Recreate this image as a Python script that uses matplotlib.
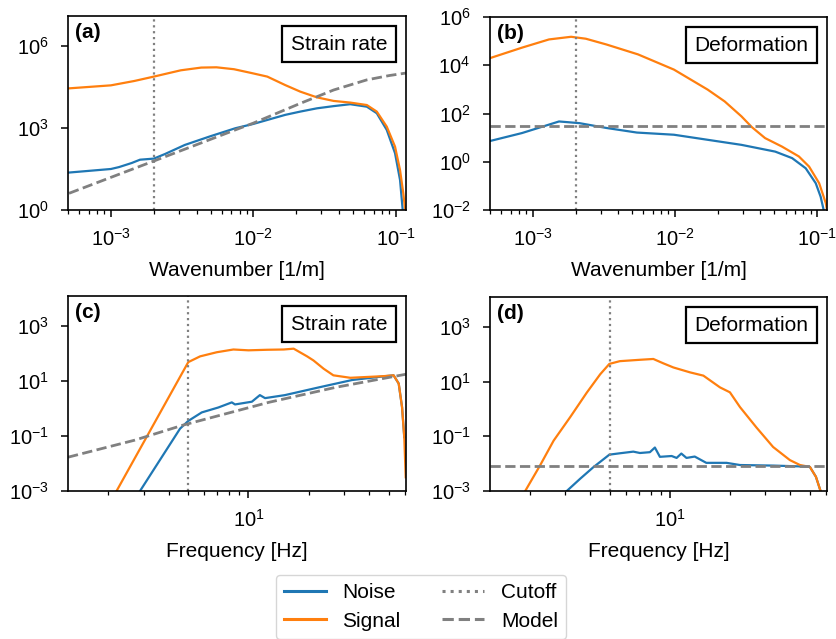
import numpy as np
import matplotlib
matplotlib.use("Agg")
import matplotlib.pyplot as plt
from matplotlib.offsetbox import AnchoredText
from matplotlib.lines import Line2D
from matplotlib.ticker import FixedLocator, NullLocator, NullFormatter, LogLocator

plt.rcParams['font.family'] = ['Liberation Sans', 'DejaVu Sans']
plt.rcParams['mathtext.fontset'] = 'custom'
plt.rcParams['mathtext.rm'] = 'Liberation Sans'
plt.rcParams['mathtext.it'] = 'Liberation Sans:italic'
plt.rcParams['mathtext.bf'] = 'Liberation Sans:bold'
plt.rcParams['font.size'] = 15
plt.rcParams['axes.linewidth'] = 1.2

# ---------------- data (y given as log10) -------------
# Panel (a): strain rate vs wavenumber
a_signal_k = [5.08e-4, 1.0e-3, 1.46e-3, 2.0e-3, 3.09e-3, 4.3e-3, 5.5e-3, 7.3e-3, 9.7e-3,
              1.25e-2, 1.67e-2, 2.13e-2, 2.79e-2, 3.65e-2, 4.77e-2, 6.24e-2, 7.33e-2,
              8.61e-2, 9.84e-2, 0.1067, 0.1125, 0.1160]
a_signal_log10 = [4.45, 4.56, 4.72, 4.88, 5.11, 5.21, 5.22, 5.15, 5.01,
                  4.88, 4.57, 4.33, 4.12, 3.99, 3.93, 3.84, 3.60,
                  3.05, 2.32, 1.46, 0.61, 0.0]
a_noise_k = [5.08e-4, 1.0e-3, 1.14e-3, 1.4e-3, 1.6e-3, 2.0e-3, 2.4e-3, 3.3e-3, 5.0e-3,
             7.45e-3, 1.0e-2, 1.67e-2, 2.13e-2, 2.79e-2, 3.65e-2, 4.77e-2, 6.24e-2,
             7.33e-2, 8.61e-2, 9.84e-2, 0.1067, 0.1114]
a_noise_log10 = [1.37, 1.50, 1.57, 1.72, 1.84, 1.88, 2.05, 2.38, 2.70,
                 2.99, 3.15, 3.48, 3.60, 3.72, 3.80, 3.87, 3.78,
                 3.54, 2.93, 2.08, 1.10, 0.0]
a_model_k = [5.08e-4, 1.95e-3, 7.45e-3, 1.0e-2, 2.13e-2, 3.65e-2, 6.24e-2, 0.09, 0.1175]
a_model_log10 = [0.61, 1.77, 2.93, 3.18, 3.90, 4.39, 4.76, 4.92, 5.01]

# Panel (b): deformation vs wavenumber
b_signal_k = [4.85e-4, 8.4e-4, 1.3e-3, 1.86e-3, 2.36e-3, 3.3e-3, 5.5e-3, 9.84e-3, 1.70e-2,
              2.24e-2, 2.94e-2, 3.47e-2, 4.31e-2, 5.66e-2, 7.45e-2, 8.79e-2, 0.1035,
              0.1153, 0.1175]
b_signal_log10 = [4.27, 4.73, 5.07, 5.18, 5.10, 4.86, 4.45, 3.82, 2.99,
                  2.50, 1.88, 1.44, 0.98, 0.63, 0.22, -0.20, -0.89,
                  -1.72, -2.0]
b_noise_k = [4.85e-4, 8.4e-4, 1.53e-3, 2.13e-3, 3.3e-3, 5.4e-3, 9.84e-3, 1.70e-2, 2.94e-2,
             5.08e-2, 6.68e-2, 8.32e-2, 9.79e-2, 0.106, 0.112]
b_noise_log10 = [0.84, 1.19, 1.67, 1.60, 1.40, 1.21, 1.12, 0.91, 0.70,
                 0.42, 0.15, -0.27, -0.89, -1.45, -2.07]
b_model_level = 29.5

# Panel (c): strain rate vs frequency
c_signal_f = [2.20, 5.01, 5.74, 6.95, 8.41, 10.0, 12.4, 15.0, 16.8, 19.6, 21.1, 23.7,
              26.5, 32.2, 39.0, 47.2, 52.9, 56.1, 58.3, 59.8, 60.8]
c_signal_log10 = [-3.0, 1.69, 1.90, 2.05, 2.15, 2.12, 2.14, 2.15, 2.18, 1.90, 1.75, 1.45,
                  1.21, 1.12, 1.15, 1.18, 1.21, 0.91, 0.05, -1.04, -2.5]
c_noise_f = [2.88, 3.62, 4.56, 5.01, 5.85, 7.08, 8.26, 8.57, 10.4, 11.4, 12.1, 15.2,
             22.4, 32.9, 48.2, 52.9, 56.1, 58.3, 59.8]
c_noise_log10 = [-3.0, -1.87, -0.73, -0.45, -0.14, 0.04, 0.225, 0.15, 0.25, 0.49, 0.38, 0.49,
                 0.77, 1.04, 1.18, 1.21, 0.91, 0.05, -1.04]
c_model_f = [1.26, 2.71, 4.73, 12.6, 27.1, 61.0]
c_model_log10 = [-1.77, -1.15, -0.60, 0.225, 0.77, 1.25]

# Panel (d): deformation vs frequency
d_signal_f = [1.89, 2.24, 2.62, 3.17, 3.84, 4.48, 4.98, 5.62, 7.08, 8.26, 9.27, 10.4,
              12.6, 14.7, 17.8, 19.95, 22.4, 27.1, 32.8, 39.8, 44.7, 50.1, 53.7, 57.1]
d_signal_log10 = [-3.0, -2.07, -1.16, -0.30, 0.60, 1.27, 1.65, 1.75, 1.80, 1.83, 1.67, 1.52,
                  1.34, 1.22, 0.79, 0.61, 0.07, -0.68, -1.39, -1.87, -2.05, -2.12, -2.48, -3.08]
d_noise_f = [3.05, 3.56, 4.14, 4.98, 5.62, 6.56, 7.08, 7.94, 8.41, 8.91, 10.2, 10.8,
             11.4, 12.1, 13.3, 15.2, 19.2, 22.4, 32.8, 44.7, 50.1, 53.7, 57.1]
d_noise_log10 = [-3.0, -2.55, -2.13, -1.67, -1.62, -1.56, -1.61, -1.58, -1.41, -1.75, -1.72, -1.79,
                 -1.63, -1.79, -1.74, -1.97, -1.97, -2.05, -2.07, -2.10, -2.12, -2.48, -3.08]
d_model_level = 8.1e-3

k_cutoff = 2.0e-3
f_cutoff = 5.0
k_lim = (5.0e-4, 0.1175)
f_lim = (1.26, 61.0)

panel_labels = ['(a)', '(b)', '(c)', '(d)']
panel_titles = ['Strain rate', 'Deformation', 'Strain rate', 'Deformation']
xlabels = ['Wavenumber [1/m]', 'Wavenumber [1/m]', 'Frequency [Hz]', 'Frequency [Hz]']
ylims = [(1.0, 1.25e7), (1.0e-2, 1.0e6), (1.0e-3, 1.25e4), (1.0e-3, 1.25e4)]
yticks = [[1e0, 1e3, 1e6], [1e-2, 1e0, 1e2, 1e4, 1e6], [1e-3, 1e-1, 1e1, 1e3], [1e-3, 1e-1, 1e1, 1e3]]

legend_labels = ['Noise', 'Signal', 'Cutoff', 'Model']

BLUE = '#1f77b4'
ORANGE = '#ff7f0e'
GREY = '#808080'
LW = 1.6

W, H = 836, 639
fig = plt.figure(figsize=(W / 100, H / 100), dpi=100)
positions = [
    [68 / W, 1 - 210 / H, 338 / W, 194 / H],
    [490 / W, 1 - 210 / H, 337 / W, 193 / H],
    [68 / W, 1 - 491 / H, 338 / W, 195 / H],
    [490 / W, 1 - 491 / H, 337 / W, 194 / H],
]
axes = [fig.add_axes(p) for p in positions]

def p10(v):
    return 10.0 ** np.asarray(v)

ax = axes[0]
ax.plot(a_noise_k, p10(a_noise_log10), color=BLUE, lw=LW)
ax.plot(a_signal_k, p10(a_signal_log10), color=ORANGE, lw=LW)
ax.plot(a_model_k, p10(a_model_log10), color=GREY, lw=2, ls='--')
ax.axvline(k_cutoff, color=GREY, lw=1.6, ls=':')

ax = axes[1]
ax.plot(b_noise_k, p10(b_noise_log10), color=BLUE, lw=LW)
ax.plot(b_signal_k, p10(b_signal_log10), color=ORANGE, lw=LW)
ax.axhline(b_model_level, color=GREY, lw=2, ls='--')
ax.axvline(k_cutoff, color=GREY, lw=1.6, ls=':')

ax = axes[2]
ax.plot(c_noise_f, p10(c_noise_log10), color=BLUE, lw=LW)
ax.plot(c_signal_f, p10(c_signal_log10), color=ORANGE, lw=LW)
ax.plot(c_model_f, p10(c_model_log10), color=GREY, lw=2, ls='--')
ax.axvline(f_cutoff, color=GREY, lw=1.6, ls=':')

ax = axes[3]
ax.plot(d_noise_f, p10(d_noise_log10), color=BLUE, lw=LW)
ax.plot(d_signal_f, p10(d_signal_log10), color=ORANGE, lw=LW)
ax.axhline(d_model_level, color=GREY, lw=2, ls='--')
ax.axvline(f_cutoff, color=GREY, lw=1.6, ls=':')

for i, ax in enumerate(axes):
    ax.set_xscale('log')
    ax.set_yscale('log')
    ax.set_xlim(k_lim if i < 2 else f_lim)
    ax.set_ylim(ylims[i])
    ax.yaxis.set_major_locator(FixedLocator(yticks[i]))
    ax.yaxis.set_minor_locator(NullLocator())
    ax.xaxis.set_major_locator(LogLocator(base=10))
    ax.xaxis.set_minor_locator(LogLocator(base=10, subs=np.arange(2, 10)))
    ax.xaxis.set_minor_formatter(NullFormatter())
    ax.set_xlabel(xlabels[i], labelpad=8)
    ax.tick_params(which='major', width=1.1, length=5, labelsize=14.5)
    ax.tick_params(which='minor', width=0.9, length=2.8)
    ax.tick_params(axis='x', which='major', pad=8)
    ax.tick_params(axis='y', which='major', pad=9)
    ax.text(0.022, 0.965, panel_labels[i], transform=ax.transAxes, ha='left', va='top',
            fontweight='bold')
    at = AnchoredText(panel_titles[i], loc='upper right', prop=dict(size=15),
                      frameon=True, pad=0.4, borderpad=0.5)
    at.patch.set_edgecolor('black')
    at.patch.set_linewidth(1.6)
    ax.add_artist(at)

handles = [Line2D([], [], color=BLUE, lw=2.2),
           Line2D([], [], color=ORANGE, lw=2.2),
           Line2D([], [], color=GREY, lw=2.2, ls=':'),
           Line2D([], [], color=GREY, lw=2.2, ls='--')]
fig.legend(handles, legend_labels, loc='upper center', bbox_to_anchor=(421 / W, 1 - 575 / H),
           borderaxespad=0, ncol=2, labelspacing=0.45, fontsize=15, handlelength=2.0,
           columnspacing=2.0)

fig.savefig('out.png', dpi=100)
